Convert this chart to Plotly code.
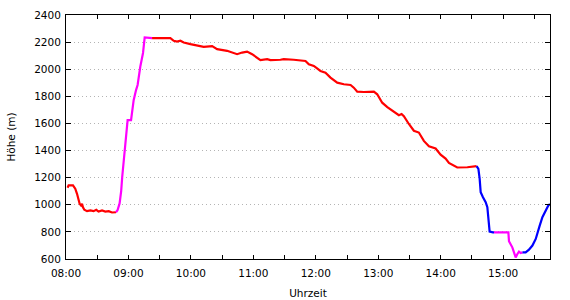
import plotly.graph_objects as go

DAY = "2024-01-01 "

# Segment 1 (red)
red1_time = ["08:01:30", "08:02:30", "08:06:42", "08:08:54", "08:10:36", "08:12:06", "08:13:06",
             "08:14:24", "08:15:24", "08:16:18", "08:17:36", "08:20:12", "08:23:24", "08:26:30",
             "08:29:06", "08:31:18", "08:34:36", "08:37:48", "08:41:00", "08:44:12", "08:46:42",
             "08:48:00"]
red1_alt = [1126, 1143, 1143, 1119, 1081, 1032, 1007, 995, 1007, 982, 963, 953, 958, 953,
            963, 950, 958, 950, 953, 943, 941, 945]

# Segment 2 (magenta)
mag1_time = ["08:48:00", "08:49:30", "08:51:30", "08:53:00", "08:54:00", "08:57:00", "08:59:12",
             "09:02:30", "09:05:00", "09:07:18", "09:08:48", "09:11:24", "09:14:00", "09:15:36",
             "09:21:06", "09:22:42"]
mag1_alt = [945, 960, 1010, 1100, 1205, 1427, 1624, 1624, 1772, 1846, 1884, 2020, 2120, 2234,
            2234, 2230]

# Segment 3 (red)
red2_time = ["09:22:42", "09:40:18", "09:43:30", "09:46:42", "09:49:54", "09:53:06", "09:59:30",
             "10:06:00", "10:12:18", "10:20:24", "10:25:12", "10:34:48", "10:44:24", "10:49:12",
             "10:54:00", "10:58:48", "11:03:42", "11:06:48", "11:13:18", "11:16:24", "11:26:00",
             "11:29:12", "11:38:48", "11:45:18", "11:50:06", "11:53:18", "11:58:06", "12:04:30",
             "12:09:18", "12:14:06", "12:20:36", "12:26:54", "12:33:24", "12:36:30", "12:39:48",
             "12:46:12", "12:55:48", "12:59:00", "13:03:48", "13:08:42", "13:15:00", "13:19:48",
             "13:22:24", "13:24:36", "13:29:24", "13:34:12", "13:39:00", "13:43:48", "13:48:42",
             "13:55:06", "13:59:54", "14:04:42", "14:07:54", "14:12:42", "14:15:54", "14:25:36",
             "14:33:36", "14:34:30"]
red2_alt = [2230, 2230, 2210, 2204, 2210, 2197, 2185, 2173, 2165, 2170, 2148, 2136, 2111, 2123,
            2130, 2111, 2081, 2067, 2074, 2067, 2070, 2074, 2070, 2065, 2061, 2037, 2024, 1987,
            1975, 1938, 1901, 1889, 1884, 1864, 1834, 1832, 1834, 1815, 1753, 1721, 1690, 1661,
            1670, 1653, 1596, 1546, 1533, 1471, 1432, 1415, 1370, 1341, 1309, 1292, 1275, 1277,
            1283, 1285]

# Segment 4 (blue)
blue1_time = ["14:34:30", "14:36:12", "14:37:24", "14:38:24", "14:40:36", "14:43:12", "14:44:48",
              "14:45:48", "14:47:00", "14:50:12", "14:51:12"]
blue1_alt = [1285, 1265, 1193, 1093, 1056, 1019, 982, 871, 802, 797, 797]

# Segment 5 (magenta)
mag2_time = ["14:51:12", "15:05:00", "15:05:36", "15:07:12", "15:08:48", "15:10:24", "15:12:00",
             "15:13:42", "15:15:12", "15:16:48", "15:18:30"]
mag2_alt = [797, 797, 731, 711, 686, 649, 612, 637, 654, 644, 649]

# Segment 6 (blue)
blue2_time = ["15:18:30", "15:21:36", "15:24:48", "15:28:06", "15:31:18", "15:32:54", "15:35:06",
              "15:37:42", "15:40:54", "15:43:30", "15:45:00"]
blue2_alt = [649, 649, 669, 699, 748, 797, 846, 908, 955, 996, 1005]

segments = [
    (red1_time, red1_alt, "#ff0000"),
    (mag1_time, mag1_alt, "#ff00ff"),
    (red2_time, red2_alt, "#ff0000"),
    (blue1_time, blue1_alt, "#0000ff"),
    (mag2_time, mag2_alt, "#ff00ff"),
    (blue2_time, blue2_alt, "#0000ff"),
]

x_ticks = ["08:00", "08:30", "09:00", "09:30", "10:00", "10:30", "11:00", "11:30", "12:00",
           "12:30", "13:00", "13:30", "14:00", "14:30", "15:00", "15:30"]
x_labels = [t if t.endswith(":00") else "" for t in x_ticks]

fig = go.Figure()
for t, a, c in segments:
    fig.add_trace(go.Scatter(x=[DAY + s for s in t], y=a, mode="lines",
                             line=dict(color=c, width=2.2), showlegend=False,
                             hoverinfo="skip"))

font = dict(family="DejaVu Sans, Verdana, sans-serif", size=10.5, color="#000000")

fig.update_layout(
    width=570, height=300,
    margin=dict(l=66, r=20, t=15, b=41),
    paper_bgcolor="white", plot_bgcolor="white",
    font=font,
)
fig.update_xaxes(
    type="date", automargin=False,
    range=[DAY + "08:00:00", DAY + "15:45:00"],
    tickvals=[DAY + t for t in x_ticks], ticktext=x_labels,
    ticks="inside", ticklen=4, tickcolor="black", tickwidth=1,
    ticklabelstandoff=4,
    showline=True, linecolor="black", linewidth=1, mirror="ticks",
    showgrid=False, zeroline=False,
    title=dict(text="Uhrzeit", font=font, standoff=12),
)
fig.update_yaxes(
    range=[600, 2400], dtick=200, tick0=600, automargin=False,
    ticks="inside", ticklen=5, tickcolor="black", tickwidth=1,
    ticklabelstandoff=2,
    showline=True, linecolor="black", linewidth=1, mirror="ticks",
    showgrid=True, gridcolor="#b4b4b4", griddash="1px,3px", gridwidth=1,
    zeroline=False,
    title=dict(text="Höhe (m)", font=font, standoff=16),
)

fig.write_html("out.html")
